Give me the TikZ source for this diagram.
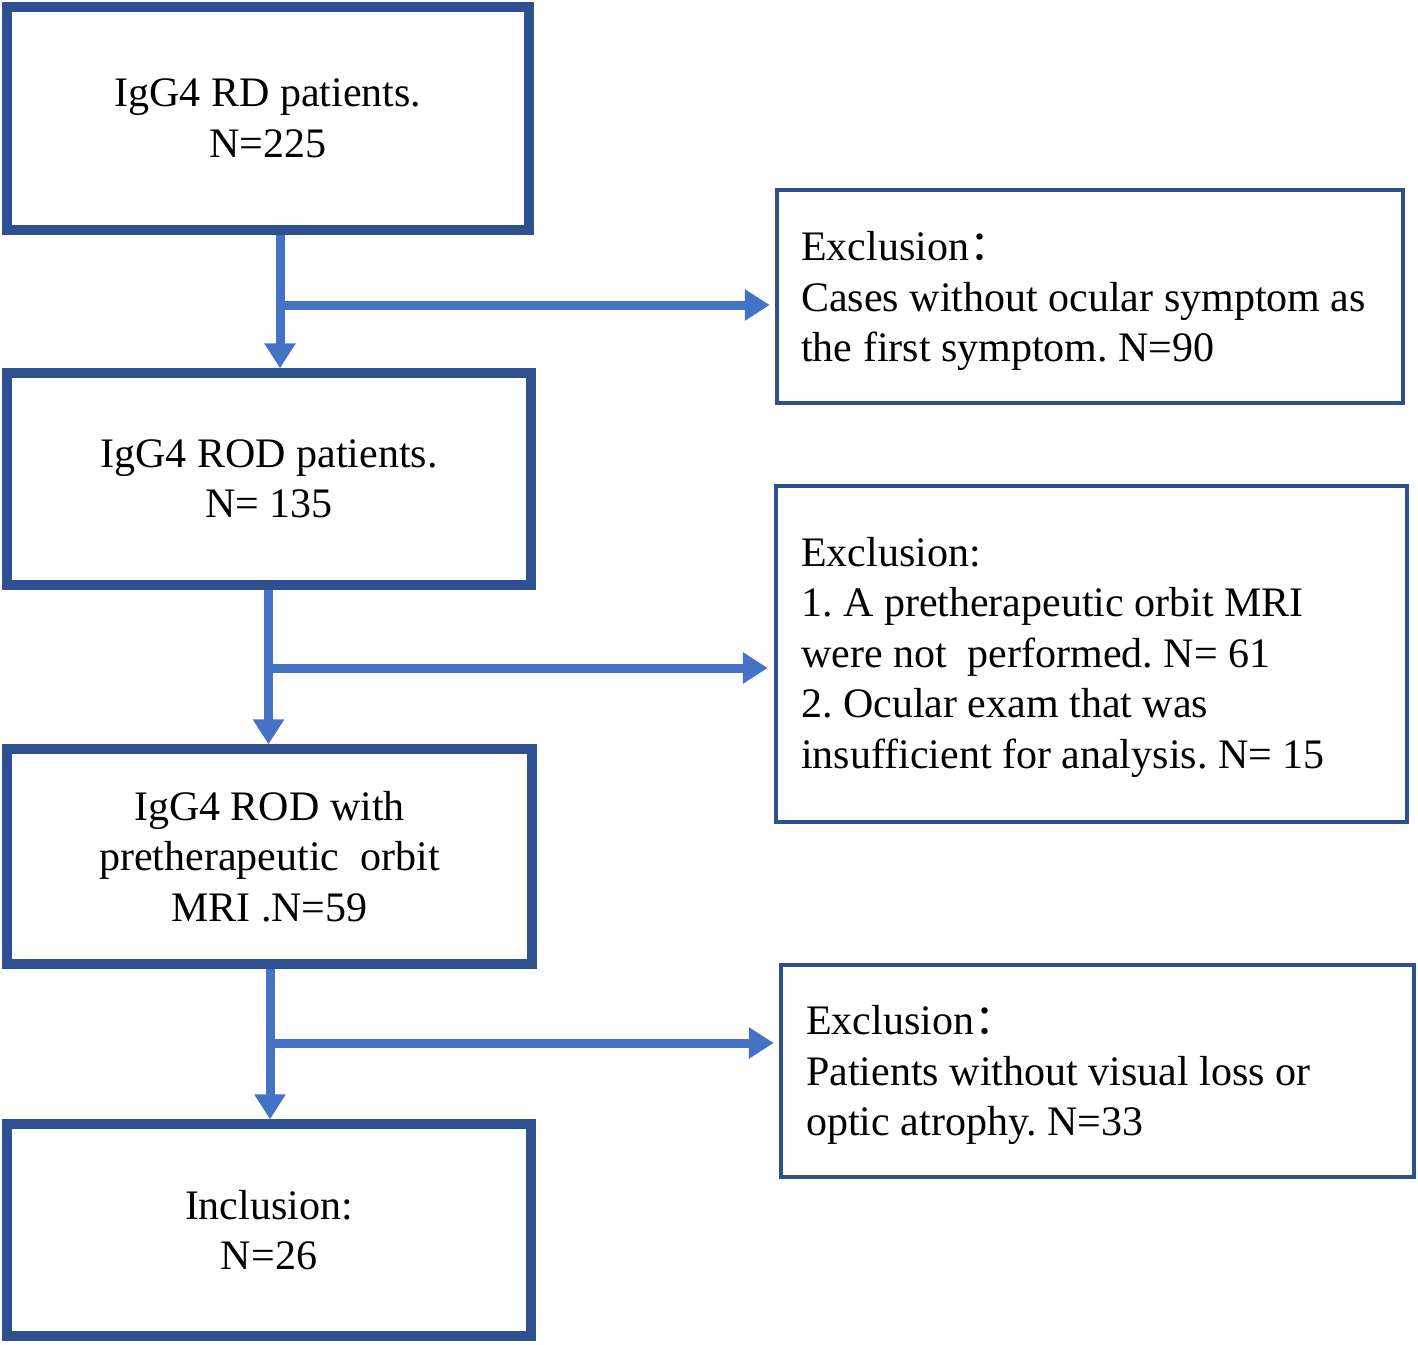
\documentclass[tikz,border=0pt]{standalone}
\usepackage{fontspec}
\setmainfont{Liberation Serif}
\newfontfamily\cjk{Noto Sans CJK SC}
\usetikzlibrary{arrows.meta}
\frenchspacing
\definecolor{boxblue}{HTML}{2F5090}
\definecolor{arrblue}{HTML}{4472C4}
\tikzset{
  mainbox/.style={draw=boxblue, line width=9.5pt, rectangle, fill=white, inner sep=0pt, align=center,
    font=\fontsize{42}{50.5}\selectfont\frenchspacing},
  exbox/.style={draw=boxblue, line width=4.5pt, rectangle, fill=white, inner sep=0pt},
  extext/.style={anchor=west, inner sep=0pt, align=left, font=\fontsize{42}{50.5}\selectfont\frenchspacing},
  arr/.style={draw=arrblue, line width=9pt, -{Triangle[length=25pt,width=30pt]}}
}
\begin{document}
\begin{tikzpicture}[x=1pt,y=-1pt]
\useasboundingbox (0,0) rectangle (1418,1344);
% left boxes
\node[mainbox, minimum width=522pt, minimum height=223pt] (b1) at (268,118.5) {IgG4 RD patients.\\N=225};
\node[mainbox, minimum width=524pt, minimum height=212pt] (b2) at (269,479) {IgG4 ROD patients.\\N= 135};
\node[mainbox, minimum width=525pt, minimum height=215pt] (b3) at (269.5,856.5) {IgG4 ROD with\\pretherapeutic\ \ orbit\\MRI .N=59};
\node[mainbox, minimum width=524pt, minimum height=212pt] (b4) at (269,1230) {Inclusion:\\N=26};
% right boxes
\node[exbox, minimum width=626pt, minimum height=213pt] (r1) at (1090,296.5) {};
\node[extext] (r1t) at (801,301) {Exclusion{\cjk ：}\\Cases without ocular symptom as\\the first symptom. N=90};
\node[exbox, minimum width=631pt, minimum height=336pt] (r2) at (1091.5,654) {};
\node[extext] (r2t) at (801,657) {Exclusion:\\1. A pretherapeutic orbit MRI\\were not\ \ performed. N= 61\\2. Ocular exam that was\\insufficient for analysis. N= 15};
\node[exbox, minimum width=633pt, minimum height=212pt] (r3) at (1097.5,1071) {};
\node[extext] (r3t) at (806,1075) {Exclusion{\cjk ：}\\Patients without visual loss or\\optic atrophy. N=33};
% junctions
\coordinate (j1) at (280,305);
\coordinate (j2) at (268.5,668);
\coordinate (j3) at (270,1043);
% connectors
\draw[arr] (j1) -- ([xshift=-5pt]j1 -| r1.west);
\draw[arr] (b1.south -| j1) -- (b2.north -| j1);
\draw[arr] (j2) -- ([xshift=-6pt]j2 -| r2.west);
\draw[arr] (b2.south -| j2) -- (b3.north -| j2);
\draw[arr] (j3) -- ([xshift=-5pt]j3 -| r3.west);
\draw[arr] (b3.south -| j3) -- (b4.north -| j3);
\end{tikzpicture}
\end{document}
